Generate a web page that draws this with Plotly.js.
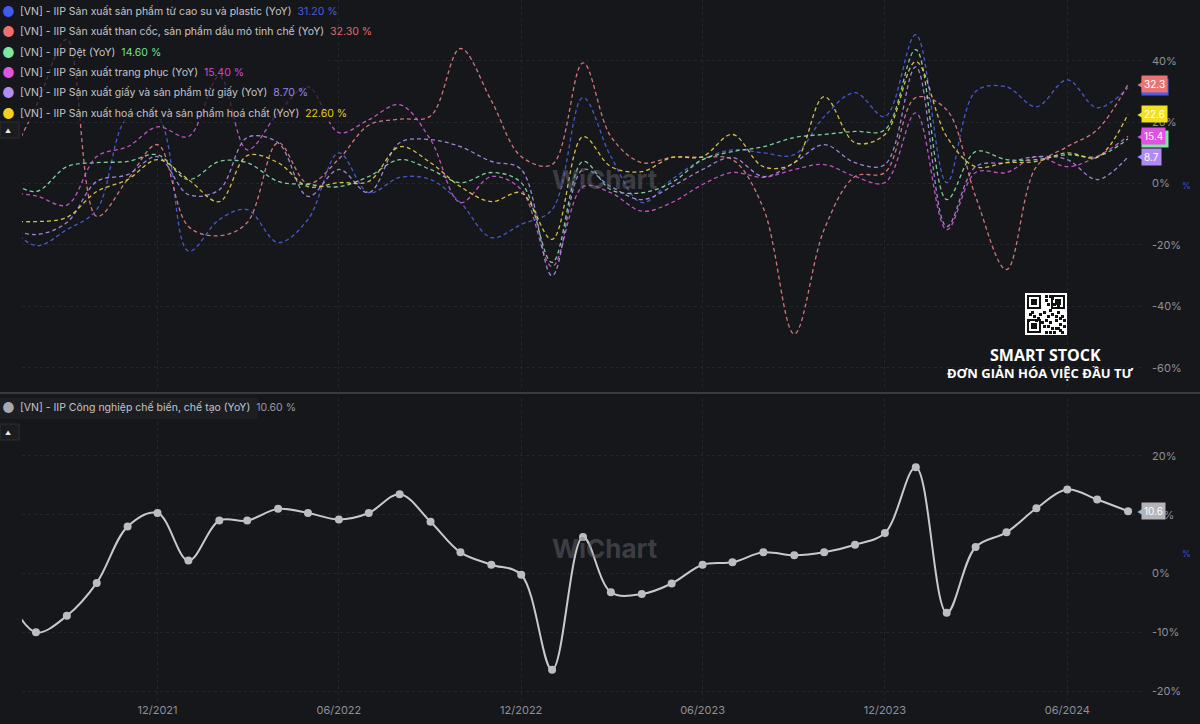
<!DOCTYPE html>
<html><head><meta charset="utf-8">
<script src="https://cdn.plot.ly/plotly-3.0.1.min.js"></script>
<style>html,body{margin:0;padding:0;background:#16171b;}#chart{width:1200px;height:724px;}</style>
</head><body><div id="chart"></div>
<script>
const months = ['2021-07-01','2021-08-01','2021-09-01','2021-10-01','2021-11-01','2021-12-01',
'2022-01-01','2022-02-01','2022-03-01','2022-04-01','2022-05-01','2022-06-01','2022-07-01','2022-08-01','2022-09-01','2022-10-01','2022-11-01','2022-12-01',
'2023-01-01','2023-02-01','2023-03-01','2023-04-01','2023-05-01','2023-06-01','2023-07-01','2023-08-01','2023-09-01','2023-10-01','2023-11-01','2023-12-01',
'2024-01-01','2024-02-01','2024-03-01','2024-04-01','2024-05-01','2024-06-01','2024-07-01','2024-08-01'];

const rubberPlastic = [-12,-20.2,-15,-8.5,21.5,21.8, -22,-11.7,-8.5,-19.2,-11.7,10,-3,2,1.3,-6.2,-17.6,-13.3, -8.5,28,8.8,-6.2,1.3,7.8,11,10,9.4,21.8,29.6,21.8, 48.5,0.3,30,31.5,25,33.8,24.7,31.2];
const cokePetroleum = [5,25,47,-10.7,1.3,12.7, -14,-17,-12.7,13.3,0,8,19,21,22,44,27,8.8, 6.2,39.3,15.3,6.8,8.5,8.5,7.8,-8,-49,-15,2.3,3.6, 28,24,-4.2,-28,5.5,12,17.5,32.3];
const textile = [2,-2.6,5.5,6.8,7.2,9.4, 1.3,7.2,6.8,0.7,-0.3,-1,2.3,7.8,4.6,0.3,3.6,0.3, -25.7,7.2,-2,-3,0.3,7.8,10.4,12,15,16,17,17.5, 43.6,-5.2,10.4,7.8,7.8,9.4,8.8,14.6];
const apparel = [-3,-4,-7,8.8,12,18.5, 15.3,35,11,23,31.5,16.6,20.8,25.7,14.3,-6.2,2.3,-2, -27,-1,-3,-9,-6.2,-0.3,3.6,2,4.6,6.2,2.3,0.3, 23,-15,3.6,3.6,8.8,5.5,8.8,15.4];
const paper = [-14,-16.6,-12.7,0.7,2.9,8.8, -3.6,-2,15,13.3,-4.2,4.6,-3,13.3,14.3,12,7.2,4.6, -30,4.6,-1,-5.2,-1,4.6,8.5,2.3,6.8,12.7,6.8,6.2, 38,-14,5.5,6.8,8.8,7.8,1.3,8.7];
const chemicals = [-12,-12.4,-11,-2.6,1.3,7.8, 1.3,-5.9,9.1,6.8,-1,0.3,0.7,12,6.8,-1,-5.9,-3, -18.2,15.3,5.5,3.9,8.5,8.8,16,5.5,6.8,28.3,13.3,16, 39.7,15.3,5.5,6.8,7.2,10,8.5,22.6];
const manufacturing = [-3,-10,-7.2,-1.6,8.0,10.3, 2.2,9.0,9.0,11.0,10.3,9.2,10.3,13.5,8.8,3.6,1.5,-0.2, -16.4,6.2,-3.2,-3.5,-1.7,1.5,1.9,3.6,3.1,3.6,4.9,6.9, 18.1,-6.7,4.5,7.0,11.1,14.3,12.6,10.6];

const topNames = ['[VN] - IIP Sản xuất sản phẩm từ cao su và plastic (YoY)',
 '[VN] - IIP Sản xuất than cốc, sản phẩm dầu mỏ tinh chế (YoY)',
 '[VN] - IIP Dệt (YoY)',
 '[VN] - IIP Sản xuất trang phục (YoY)',
 '[VN] - IIP Sản xuất giấy và sản phẩm từ giấy (YoY)',
 '[VN] - IIP Sản xuất hoá chất và sản phẩm hoá chất (YoY)'];
const bottomName = '[VN] - IIP Công nghiệp chế biến, chế tạo (YoY)';
const xTickVals = ['2021-12-01','2022-06-01','2022-12-01','2023-06-01','2023-12-01','2024-06-01'];
const xTickText = ['12/2021','06/2022','12/2022','06/2023','12/2023','06/2024'];
const topTickVals = [-60,-40,-20,0,20,40];
const topTickText = ['-60%','-40%','-20%','0%','20%','40%'];
const botTickVals = [-20,-10,0,10,20];
const botTickText = ['-20%','-10%','0%','10%','20%'];

const topSeries = [rubberPlastic, cokePetroleum, textile, apparel, paper, chemicals];
const lineColors = ['#4d5fe0','#e37f86','#86e0a6','#d45ad4','#ad8fe8','#e8cf4a'];
const dotColors = ['#3f5bf0','#ee7070','#7ee8a0','#e055e0','#b48cf4','#f5d020'];
const valColors = ['#4a5ae0','#e06a6a','#6ee090','#d448cc','#9a86e6','#e8cc20'];
const tagColors = ['#4a5ee8','#e87474','#7ee8a0','#e052e0','#b08cf2','#f4e020'];

const W = 1200, H = 724, ML = 22, MR = 57, MT = 0, MB = 22;
const PW = W - ML - MR, PH = H - MT - MB;
const px = p => (p - ML) / PW;
const py = p => (H - MB - p) / PH;

const traces = [];
topSeries.forEach((s, i) => {
  traces.push({x: months, y: s, type: 'scatter', mode: 'lines', xaxis: 'x', yaxis: 'y',
    line: {color: lineColors[i], width: 1.3, dash: '4px,3px', shape: 'spline', smoothing: 1},
    opacity: 0.9, hoverinfo: 'skip', showlegend: false});
});
traces.push({x: months, y: manufacturing, type: 'scatter', mode: 'lines+markers', xaxis: 'x', yaxis: 'y2',
  line: {color: '#c9c9cd', width: 2, shape: 'spline', smoothing: 1},
  marker: {color: '#bcbcc1', size: 8}, hoverinfo: 'skip', showlegend: false});

const font = 'Inter, Roboto, "Noto Sans", sans-serif';
const annotations = [];
const shapes = [];

// legend background boxes
shapes.push({type: 'rect', xref: 'paper', yref: 'paper', x0: px(0), x1: px(330), y0: py(122), y1: py(0),
  fillcolor: 'rgba(22,23,27,0.72)', line: {width: 0}, layer: 'above'});
shapes.push({type: 'rect', xref: 'paper', yref: 'paper', x0: px(0), x1: px(258), y0: py(419), y1: py(398),
  fillcolor: 'rgba(30,31,36,0.9)', line: {width: 0}, layer: 'above'});
// collapse buttons
[[122,138],[424,440]].forEach(([a,b]) => {
  shapes.push({type: 'rect', xref: 'paper', yref: 'paper', x0: px(0), x1: px(19), y0: py(b), y1: py(a),
    fillcolor: '#1b1c20', line: {color: '#2c2e35', width: 1}, layer: 'above'});
  annotations.push({xref: 'paper', yref: 'paper', x: px(8), y: py((a+b)/2), xanchor: 'center', yanchor: 'middle',
    text: '▲', showarrow: false, font: {family: font, size: 6, color: '#e8e8e8'}});
});
// separator
shapes.push({type: 'line', xref: 'paper', yref: 'paper', x0: px(0), x1: px(1200), y0: py(393), y1: py(393),
  line: {color: '#3a3b40', width: 2}, layer: 'above'});

// top legend
topNames.forEach((n, i) => {
  const yy = 11 + i * 20.5;
  annotations.push({xref: 'paper', yref: 'paper', x: px(8), y: py(yy), xanchor: 'center', yanchor: 'middle',
    text: '●', showarrow: false, font: {family: font, size: 14, color: dotColors[i]}});
  const last = topSeries[i][topSeries[i].length - 1];
  annotations.push({xref: 'paper', yref: 'paper', x: px(18), y: py(yy), xanchor: 'left', yanchor: 'middle',
    text: n + '  <span style="color:' + valColors[i] + '">' + last.toFixed(2) + ' %</span>', showarrow: false,
    font: {family: font, size: 10.5, color: '#c4c5ca'}});
});
// bottom legend
annotations.push({xref: 'paper', yref: 'paper', x: px(8), y: py(408), xanchor: 'center', yanchor: 'middle',
  text: '●', showarrow: false, font: {family: font, size: 14, color: '#a8a8ad'}});
annotations.push({xref: 'paper', yref: 'paper', x: px(18), y: py(408), xanchor: 'left', yanchor: 'middle',
  text: bottomName + '  <span style="color:#9a9aa0">' + manufacturing[manufacturing.length-1].toFixed(2) + ' %</span>',
  showarrow: false, font: {family: font, size: 10.5, color: '#c4c5ca'}});

// end tags: blue and green tags sit mostly hidden behind red and magenta (only a coloured edge shows)
const lastX = months[months.length - 1];
const hiddenTags = [[0,1],[2,3]];
hiddenTags.forEach(([i, over]) => {
  const v = topSeries[over][topSeries[over].length - 1];
  annotations.push({xref: 'x', yref: 'y', x: lastX, y: v, xanchor: 'left', yanchor: 'middle', xshift: 13, yshift: -3,
    text: '\u2007\u2007\u2008\u2007', showarrow: false, bgcolor: tagColors[i], borderpad: 2,
    font: {family: font, size: 10, color: tagColors[i]}});
});
[1,3,4,5].forEach(i => {
  const v = topSeries[i][topSeries[i].length - 1];
  annotations.push({xref: 'x', yref: 'y', x: lastX, y: v, xanchor: 'left', yanchor: 'middle', xshift: 7,
    text: '◀', showarrow: false, font: {family: font, size: 9, color: tagColors[i]}});
  annotations.push({xref: 'x', yref: 'y', x: lastX, y: v, xanchor: 'left', yanchor: 'middle', xshift: 13,
    text: v.toFixed(1), showarrow: false, bgcolor: tagColors[i], borderpad: 2,
    font: {family: font, size: 10, color: '#ffffff'}});
});
const mLast = manufacturing[manufacturing.length - 1];
annotations.push({xref: 'x', yref: 'y2', x: lastX, y: mLast, xanchor: 'left', yanchor: 'middle', xshift: 7,
  text: '◀', showarrow: false, font: {family: font, size: 9, color: '#b4b4b8'}});
annotations.push({xref: 'x', yref: 'y2', x: lastX, y: mLast, xanchor: 'left', yanchor: 'middle', xshift: 13,
  text: mLast.toFixed(1), showarrow: false, bgcolor: '#b4b4b8', borderpad: 2,
  font: {family: font, size: 10, color: '#ffffff'}});

// watermarks
[180, 548].forEach(yy => {
  annotations.push({xref: 'paper', yref: 'paper', x: px(605), y: py(yy), xanchor: 'center', yanchor: 'middle',
    text: '<b>WiChart</b>', showarrow: false, font: {family: font, size: 26, color: 'rgba(110,112,120,0.45)'}});
  annotations.push({xref: 'paper', yref: 'paper', x: px(1186), y: py(yy + 5), xanchor: 'center', yanchor: 'middle',
    text: '%', showarrow: false, font: {family: font, size: 9, color: '#3c4fd0'}});
});

// SMART STOCK text
annotations.push({xref: 'paper', yref: 'paper', x: px(1045), y: py(355), xanchor: 'center', yanchor: 'middle',
  text: '<b>SMART STOCK</b>', showarrow: false, font: {family: 'Open Sans, sans-serif', size: 16, color: '#ffffff'}});
annotations.push({xref: 'paper', yref: 'paper', x: px(1040), y: py(373), xanchor: 'center', yanchor: 'middle',
  text: '<b>ĐƠN GIẢN HÓA VIỆC ĐẦU TƯ</b>', showarrow: false, font: {family: 'Open Sans, sans-serif', size: 13, color: '#ffffff'}});

// QR code
const qx = 1025, qy = 293, qs = 42;
shapes.push({type: 'rect', xref: 'paper', yref: 'paper', x0: px(qx), x1: px(qx+qs), y0: py(qy+qs), y1: py(qy),
  fillcolor: '#ffffff', line: {width: 0}, layer: 'above'});
const cell = 2;
const qrBlocks = [[10,1],[12,1],[13,2],[10,3],[15,3],[11,5],[14,5],[16,6],[2,10],[4,11],[7,10],[9,9],[11,11],[13,10],[16,9],[18,11],[1,13],[5,13],[8,14],[10,13],[12,14],[15,13],[17,15],[19,13],[11,16],[13,17],[15,17],[17,18],[10,19],[12,19],[14,19],[16,17],[18,19],[19,16],[6,12],[3,9],[9,16],[12,8],[15,11],[17,12]];
const finders = [[1,1],[1,13],[13,1]];
finders.forEach(([cx, cy]) => {
  const x0 = qx + cx*cell, y0 = qy + cy*cell;
  shapes.push({type:'rect', xref:'paper', yref:'paper', x0: px(x0), x1: px(x0+14), y0: py(y0+14), y1: py(y0), fillcolor:'#111', line:{width:0}, layer:'above'});
  shapes.push({type:'rect', xref:'paper', yref:'paper', x0: px(x0+2), x1: px(x0+12), y0: py(y0+12), y1: py(y0+2), fillcolor:'#fff', line:{width:0}, layer:'above'});
  shapes.push({type:'rect', xref:'paper', yref:'paper', x0: px(x0+4), x1: px(x0+10), y0: py(y0+10), y1: py(y0+4), fillcolor:'#111', line:{width:0}, layer:'above'});
});
qrBlocks.forEach(([cx, cy]) => {
  const x0 = qx + cx*cell, y0 = qy + cy*cell;
  shapes.push({type:'rect', xref:'paper', yref:'paper', x0: px(x0), x1: px(x0+cell*1.5), y0: py(y0+cell*1.5), y1: py(y0), fillcolor:'#111', line:{width:0}, layer:'above'});
});

const axisFont = {family: font, size: 11, color: '#8e9099'};
const layout = {
  width: W, height: H,
  margin: {l: ML, r: MR, t: MT, b: MB},
  paper_bgcolor: '#16171b', plot_bgcolor: '#16171b',
  showlegend: false,
  xaxis: {type: 'date', range: ['2021-07-18', '2024-08-16'], anchor: 'y2',
    tickvals: xTickVals, ticktext: xTickText, tickfont: axisFont,
    showgrid: true, gridcolor: '#24262d', griddash: 'dot', gridwidth: 1, zeroline: false, showline: false, ticks: ''},
  yaxis: {domain: [py(388), 1], range: [-66.6, 59.8], side: 'right',
    tickvals: topTickVals, ticktext: topTickText, tickfont: axisFont, ticklabelstandoff: 8,
    showgrid: true, gridcolor: '#24262d', griddash: 'dot', zeroline: false, showline: false, ticks: ''},
  yaxis2: {domain: [0, py(398)], range: [-21.87, 29.87], side: 'right', anchor: 'x',
    tickvals: botTickVals, ticktext: botTickText, tickfont: axisFont, ticklabelstandoff: 8,
    showgrid: true, gridcolor: '#24262d', griddash: 'dot', zeroline: false, showline: false, ticks: ''},
  annotations: annotations,
  shapes: shapes
};
Plotly.newPlot('chart', traces, layout, {staticPlot: true, displayModeBar: false});
</script>
</body></html>
